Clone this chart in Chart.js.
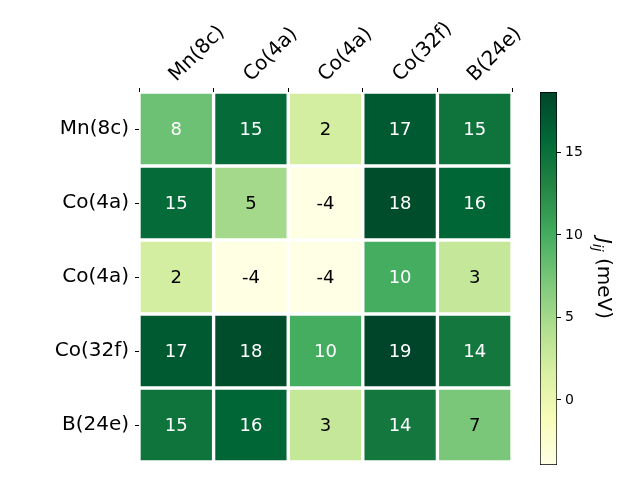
<!DOCTYPE html>
<html>
<head>
<meta charset="UTF-8">
<title>Jij heatmap</title>
<script src="https://cdn.jsdelivr.net/npm/chart.js"></script>
<style>
  body { margin: 0; background: white; }
  #wrap { position: relative; width: 640px; height: 480px; }
  #heat { position: absolute; left: 0; top: 0; }
  #cbar { position: absolute; left: 520px; top: 0; }
</style>
</head>
<body>
<div id="wrap">
  <canvas id="heat" width="640" height="480"></canvas>
  <canvas id="cbar" width="120" height="480"></canvas>
</div>
<script>
// labels
const colLabels = ['Mn(8c)', 'Co(4a)', 'Co(4a)', 'Co(32f)', 'B(24e)'];
const rowLabels = ['Mn(8c)', 'Co(4a)', 'Co(4a)', 'Co(32f)', 'B(24e)'];

// exchange values J_ij (meV), one array per row
const jMn8c  = [7.9, 15.4, 2.0, 17.0, 14.6];
const jCo4aA = [15.4, 5.0, -3.9, 18.0, 16.0];
const jCo4aB = [2.0, -3.9, -3.94, 10.0, 3.0];
const jCo32f = [17.0, 18.0, 10.0, 18.66, 14.2];
const jB24e  = [14.6, 16.0, 3.0, 14.2, 7.2];
const rows = [jMn8c, jCo4aA, jCo4aB, jCo32f, jB24e];

// colour bar
const cbMin = -3.94;
const cbMax = 18.66;
const cbTicks = [0, 5, 10, 15];

const FONT = 'DejaVu Sans';
const ylgn = ['#ffffe5','#f7fcb9','#d9f0a3','#addd8e','#78c679','#41ab5d','#238443','#006837','#004529'];

function hex2rgb(h) {
  return [parseInt(h.substr(1,2),16), parseInt(h.substr(3,2),16), parseInt(h.substr(5,2),16)];
}
function cmap(t) {
  t = Math.max(0, Math.min(1, t));
  const p = t * (ylgn.length - 1);
  const i = Math.min(Math.floor(p), ylgn.length - 2);
  const f = p - i;
  const a = hex2rgb(ylgn[i]), b = hex2rgb(ylgn[i + 1]);
  const c = a.map((v, k) => Math.round(v + (b[k] - v) * f));
  return 'rgb(' + c.join(',') + ')';
}
function colorFor(v) { return cmap((v - cbMin) / (cbMax - cbMin)); }

const datasets = rows.map((vals, r) => ({
  label: rowLabels[r],
  data: vals.map(() => [r - 0.5, r + 0.5]),
  values: vals,
  backgroundColor: vals.map(colorFor),
  borderColor: '#ffffff',
  borderWidth: 2,
  borderSkipped: false,
  barPercentage: 1.0,
  categoryPercentage: 1.0
}));

const cellText = {
  id: 'cellText',
  afterDatasetsDraw(chart) {
    const ctx = chart.ctx;
    ctx.save();
    ctx.font = '18px "' + FONT + '"';
    ctx.textAlign = 'center';
    ctx.textBaseline = 'middle';
    chart.data.datasets.forEach((ds, di) => {
      const meta = chart.getDatasetMeta(di);
      meta.data.forEach((el, i) => {
        const v = ds.values[i];
        ctx.fillStyle = v > (cbMin + cbMax) / 2 ? '#ffffff' : '#000000';
        ctx.fillText(String(Math.round(v)), el.x, (el.y + el.base) / 2 + 1);
      });
    });
    // rotated column labels, anchored at left baseline above each tick
    const xs = chart.scales.x;
    ctx.font = '20px "' + FONT + '"';
    ctx.fillStyle = '#000';
    ctx.textAlign = 'left';
    ctx.textBaseline = 'alphabetic';
    colLabels.forEach((lab, i) => {
      ctx.save();
      ctx.translate(xs.getPixelForTick(i), chart.chartArea.top - 10);
      ctx.rotate(-Math.PI / 4);
      ctx.fillText(lab, 0, 0);
      ctx.restore();
    });
    ctx.restore();
  }
};

new Chart(document.getElementById('heat'), {
  type: 'bar',
  data: { labels: colLabels, datasets: datasets },
  options: {
    responsive: false,
    animation: false,
    layout: { padding: { left: 0, top: 0, right: 128, bottom: 16 } },
    plugins: { legend: { display: false }, tooltip: { enabled: false } },
    scales: {
      x: {
        position: 'top',
        stacked: true,
        afterFit(scale) { scale.height = 92; },
        grid: { drawOnChartArea: false, tickLength: 4, tickColor: '#000' },
        border: { display: false },
        ticks: { display: false }
      },
      y: {
        reverse: true,
        min: -0.5, max: 4.5,
        afterFit(scale) { scale.width = 139; },
        afterBuildTicks(scale) { scale.ticks = [0, 1, 2, 3, 4].map(v => ({ value: v })); },
        grid: { drawOnChartArea: false, tickLength: 4, tickColor: '#000' },
        border: { display: false },
        ticks: {
          padding: 6,
          color: '#000', font: { family: FONT, size: 20 },
          callback: v => rowLabels[v]
        }
      }
    }
  },
  plugins: [cellText]
});

// colour bar chart
const cbarTitle = {
  id: 'cbarTitle',
  afterDraw(chart) {
    const ctx = chart.ctx;
    const area = chart.chartArea;
    const cy = (area.top + area.bottom) / 2;
    ctx.save();
    ctx.translate(83, cy);
    ctx.rotate(Math.PI / 2);
    ctx.fillStyle = '#000';
    ctx.textBaseline = 'middle';
    const f1 = 'italic 20px "' + FONT + '"';
    const f2 = 'italic 14px "' + FONT + '"';
    const f3 = '20px "' + FONT + '"';
    ctx.font = f1; const w1 = ctx.measureText('J').width;
    ctx.font = f2; const w2 = ctx.measureText('ij').width;
    ctx.font = f3; const w3 = ctx.measureText(' (meV)').width;
    let x = -(w1 + w2 + w3) / 2;
    ctx.textAlign = 'left';
    ctx.font = f1; ctx.fillText('J', x, 0); x += w1;
    ctx.font = f2; ctx.fillText('ij', x, 6); x += w2;
    ctx.font = f3; ctx.fillText(' (meV)', x, 0);
    ctx.restore();
  }
};

new Chart(document.getElementById('cbar'), {
  type: 'bar',
  data: {
    labels: [''],
    datasets: [{
      data: [[cbMin, cbMax]],
      backgroundColor(c) {
        const chart = c.chart;
        if (!chart.chartArea) return null;
        const ys = chart.scales.y;
        const g = chart.ctx.createLinearGradient(0, ys.getPixelForValue(cbMin), 0, ys.getPixelForValue(cbMax));
        for (let k = 0; k <= 40; k++) g.addColorStop(k / 40, cmap(k / 40));
        return g;
      },
      borderColor: '#000',
      borderWidth: 1,
      borderSkipped: false,
      barPercentage: 1.0,
      categoryPercentage: 1.0
    }]
  },
  options: {
    responsive: false,
    animation: false,
    layout: { padding: { left: 20, top: 92, right: 0, bottom: 15 } },
    plugins: { legend: { display: false }, tooltip: { enabled: false } },
    scales: {
      x: { display: false },
      y: {
        position: 'right',
        min: cbMin, max: cbMax,
        afterFit(scale) { scale.width = 83; },
        afterBuildTicks(scale) { scale.ticks = cbTicks.map(v => ({ value: v })); },
        grid: { drawOnChartArea: false, tickLength: 4, tickColor: '#000' },
        border: { display: false },
        ticks: { padding: 4, color: '#000', font: { family: FONT, size: 14 } }
      }
    }
  },
  plugins: [cbarTitle]
});
</script>
</body>
</html>
